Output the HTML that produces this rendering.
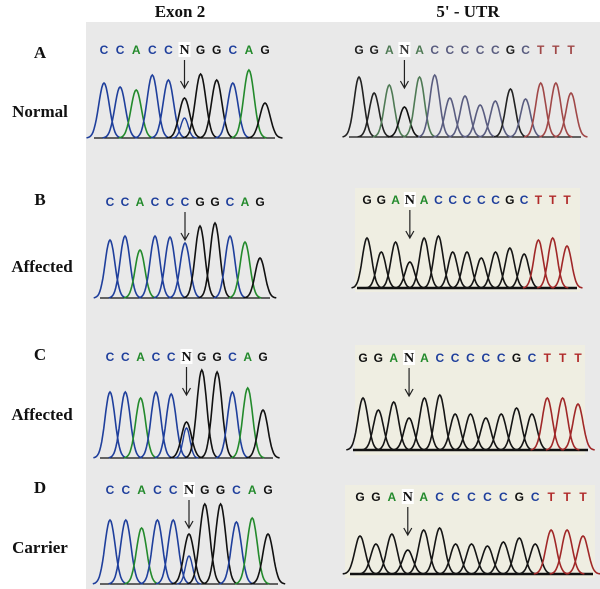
<!DOCTYPE html>
<html><head><meta charset="utf-8"><style>
body{margin:0;background:#fff}
svg{display:block}
.lab{font-family:"Liberation Serif",serif;font-weight:bold;font-size:17px;fill:#111}
.base{font-family:"Liberation Sans",sans-serif;font-weight:bold;font-size:12px}
</style></head><body>
<svg id="fig" width="600" height="589" xmlns="http://www.w3.org/2000/svg">
<rect x="86" y="22" width="514" height="567" fill="#e9e9e9"/>
<text class="lab" x="180" y="17" text-anchor="middle">Exon 2</text>
<text class="lab" x="468" y="17" text-anchor="middle">5' - UTR</text>
<text class="lab" x="40" y="58" text-anchor="middle">A</text>
<text class="lab" x="40" y="117" text-anchor="middle">Normal</text>
<text class="lab" x="40" y="205" text-anchor="middle">B</text>
<text class="lab" x="42" y="272" text-anchor="middle">Affected</text>
<text class="lab" x="40" y="360" text-anchor="middle">C</text>
<text class="lab" x="42" y="420" text-anchor="middle">Affected</text>
<text class="lab" x="40" y="493" text-anchor="middle">D</text>
<text class="lab" x="40" y="553" text-anchor="middle">Carrier</text>
<rect x="355" y="188" width="225" height="104" fill="#efeee2"/>
<rect x="355" y="345" width="230" height="110" fill="#efeee2"/>
<rect x="345" y="485" width="250" height="93" fill="#efeee2"/>
<g id="traces"></g>
</svg>
<script>
// sequences
const seqExon = "CCACCNGGCAG";
const seqExonB = "CCACCCGGCAG";
const seqUtr = "GGANACCCCCGCTTT";
// peak heights (px above baseline)
const hA1 = [55,51,48,63,58,40,64,58,55,68,35];
const hA2 = [60,44,52,30,60,62,39,41,32,36,48,38,54,54,44];
const hB1 = [58,62,48,62,61,55,72,75,62,56,40];
const hB2 = [50,36,46,26,50,52,36,36,30,36,40,34,48,50,42];
const hC1 = [66,66,60,66,64,36,88,86,66,70,48];
const hC2 = [52,40,48,32,52,55,36,36,32,36,42,36,52,52,46];
const hD1 = [64,64,56,64,64,50,80,80,62,66,50];
const hD2 = [38,30,40,24,44,46,30,30,28,32,36,30,44,44,38];
// secondary (mutant) peak heights at N position
const hetA1 = 20, hetB1 = 10, hetC1 = 30, hetD1 = 28;

const panels = [
 {id:'a-exon',seq:seqExon,h:hA1,x0:104,x1:265,base:138,ty:54,het:hetA1,muted:false,thick:false},
 {id:'a-utr',seq:seqUtr,h:hA2,x0:359,x1:571,base:137,ty:54,het:0,muted:true,thick:false},
 {id:'b-exon',seq:seqExonB,h:hB1,x0:110,x1:260,base:298,ty:206,het:hetB1,muted:false,thick:false,arrowIdx:5},
 {id:'b-utr',seq:seqUtr,h:hB2,x0:367,x1:567,base:288,ty:204,het:0,muted:true,dark:true,thick:true},
 {id:'c-exon',seq:seqExon,h:hC1,x0:110,x1:263,base:458,ty:361,het:hetC1,muted:false,thick:false},
 {id:'c-utr',seq:seqUtr,h:hC2,x0:363,x1:578,base:450,ty:362,het:0,muted:true,dark:true,thick:true},
 {id:'d-exon',seq:seqExon,h:hD1,x0:110,x1:268,base:584,ty:494,het:hetD1,muted:false,thick:false},
 {id:'d-utr',seq:seqUtr,h:hD2,x0:360,x1:583,base:574,ty:501,het:0,muted:true,dark:true,thick:true}
];
const col = {C:'#1f3f9c',A:'#238a2c',G:'#111',T:'#b02a2a',N:'#111'};
const colMuted = {C:'#5a5d80',A:'#4f7a55',G:'#222',T:'#a04848',N:'#333'};
const NS='http://www.w3.org/2000/svg';
const g=document.getElementById('traces');
function mk(tag,attrs){const e=document.createElementNS(NS,tag);for(const k in attrs)e.setAttribute(k,attrs[k]);return e;}
function peakPath(c,h,w,base){let d='';for(let i=-16;i<=16;i++){const x=c+i*w/10;const y=base-h*Math.exp(-Math.pow(i/10,2)*2.2);d+=(i===-16?'M':'L')+x.toFixed(1)+' '+y.toFixed(1);}return d;}
panels.forEach(p=>{
 const n=p.seq.length, step=(p.x1-p.x0)/(n-1), w=step*0.68;
 const pg=mk('g',{});
 
 
 g.appendChild(pg);
 const bl=mk('line',{x1:p.x0-10,x2:p.x1+10,y1:p.base,y2:p.base,stroke:'#111','stroke-width':p.thick?2.5:1.2});
 
 
 pg.appendChild(bl);
 for(let i=0;i<n;i++){
  const ch=p.seq[i], cx=p.x0+i*step;
  let c = p.dark ? (ch==='T'?'#a02828':'#151515') : (p.muted?colMuted[ch]:col[ch]);
  if(ch==='N') c = '#111';
  const pk=mk('path',{d:peakPath(cx,p.h[i],w,p.base),fill:'none',stroke:c,'stroke-width':1.6});
  
  
  pg.appendChild(pk);
  if(ch==='N' && p.het){
   const hp=mk('path',{d:peakPath(cx,p.het,w*0.7,p.base),fill:'none',stroke:'#1f3f9c','stroke-width':1.4});
   
   
   pg.appendChild(hp);
  }
  if(ch==='N'){
   const bx=mk('rect',{x:cx-6,y:p.ty-12,width:12,height:15,fill:'#fff'});
   
   
   pg.appendChild(bx);
  }
  const t=mk('text',{x:cx,y:p.ty,'text-anchor':'middle',class:'base',fill:(p.muted&&!p.dark?colMuted[ch]:col[ch])});
  if(ch==='N'){t.setAttribute('style','font-family:"Liberation Serif",serif;font-size:14px');}
  t.textContent=ch;
  
  
  pg.appendChild(t);
 }
 let ai = p.arrowIdx!==undefined ? p.arrowIdx : p.seq.indexOf('N');
 const ax=p.x0+ai*step, ay0=p.ty+6, ay1=p.ty+34;
 const ar=mk('path',{d:`M${ax} ${ay0}L${ax} ${ay1}M${ax-4} ${ay1-7}L${ax} ${ay1}L${ax+4} ${ay1-7}`,fill:'none',stroke:'#222','stroke-width':1.2});
 
 
 pg.appendChild(ar);
});
</script>
</body></html>
